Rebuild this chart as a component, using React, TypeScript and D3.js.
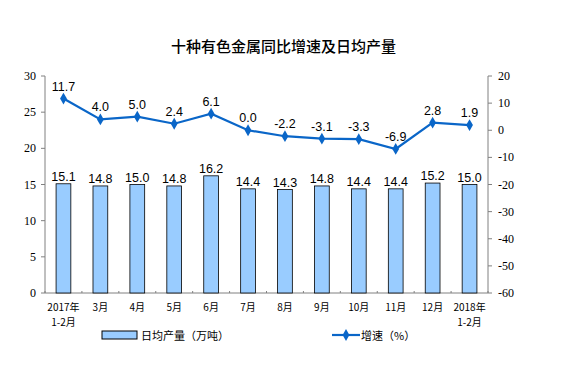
import React from 'react';
import * as d3 from 'd3';

const categories = ['2017年\n1-2月', '3月', '4月', '5月', '6月', '7月', '8月', '9月', '10月', '11月', '12月', '2018年\n1-2月'];
const dailyOutput = [15.1, 14.8, 15.0, 14.8, 16.2, 14.4, 14.3, 14.8, 14.4, 14.4, 15.2, 15.0];
const growthRate = [11.7, 4.0, 5.0, 2.4, 6.1, 0.0, -2.2, -3.1, -3.3, -6.9, 2.8, 1.9];
const leftTicks = [0, 5, 10, 15, 20, 25, 30];
const rightTicks = [-60, -50, -40, -30, -20, -10, 0, 10, 20];

const W = 567;
const H = 370;
const margin = { top: 76, right: 79, bottom: 77, left: 45 };

const App: React.FC = () => {
  const x = d3.scaleBand<string>()
    .domain(categories)
    .range([margin.left, W - margin.right])
    .paddingInner(0.6)
    .paddingOuter(0.3);
  const yL = d3.scaleLinear().domain([0, 30]).range([H - margin.bottom, margin.top]);
  const yR = d3.scaleLinear().domain([-60, 20]).range([H - margin.bottom, margin.top]);
  const cx = (c: string) => (x(c) || 0) + x.bandwidth() / 2;
  const step = (W - margin.left - margin.right) / categories.length;

  const line = d3.line<number>()
    .x((_, i) => cx(categories[i]))
    .y(d => yR(d));

  const axisColor = '#808080';
  const lineColor = '#0A66C8';
  const x0 = margin.left;
  const x1 = W - margin.right;
  const yBottom = H - margin.bottom;
  const diamond = d3.symbol().type(d3.symbolDiamond).size(40)() || '';

  return (
    <svg width={W} height={H} style={{ position: 'absolute', left: 0, top: 0, background: '#fff' }}>
      <text x={W / 2} y={52} textAnchor="middle" fontSize={15} fontWeight={500} fontFamily="Noto Sans CJK SC" fill="#000">
        十种有色金属同比增速及日均产量
      </text>

      {/* axes */}
      <line x1={x0} x2={x0} y1={margin.top} y2={yBottom} stroke={axisColor} />
      <line x1={x1} x2={x1} y1={margin.top} y2={yBottom} stroke={axisColor} />
      <line x1={x0} x2={x1} y1={yBottom} y2={yBottom} stroke={axisColor} />
      {leftTicks.map(t => (
        <g key={'l' + t}>
          <line x1={x0 - 4} x2={x0} y1={yL(t)} y2={yL(t)} stroke={axisColor} />
          <text x={x0 - 9} y={yL(t) + 4} textAnchor="end" fontSize={12} fontFamily="Liberation Serif">{t}</text>
        </g>
      ))}
      {rightTicks.map(t => (
        <g key={'r' + t}>
          <line x1={x1} x2={x1 + 4} y1={yR(t)} y2={yR(t)} stroke={axisColor} />
          <text x={x1 + 10} y={yR(t) + 4} textAnchor="start" fontSize={12} fontFamily="Liberation Serif">{t}</text>
        </g>
      ))}
      {d3.range(categories.length + 1).map(i => (
        <line key={'xt' + i} x1={x0 + i * step} x2={x0 + i * step} y1={yBottom - 2} y2={yBottom} stroke={axisColor} />
      ))}
      {categories.map(c => (
        <text key={'xl' + c} x={cx(c)} y={yBottom + 18} textAnchor="middle" fontSize={10} fontFamily="Noto Sans CJK SC">
          {c.split('\n').map((s, j) => (
            <tspan key={j} x={cx(c)} dy={j === 0 ? 0 : 15}>{s}</tspan>
          ))}
        </text>
      ))}

      {/* bars */}
      {dailyOutput.map((v, i) => (
        <g key={'b' + i}>
          <rect x={x(categories[i])} y={yL(v)} width={x.bandwidth()} height={yBottom - yL(v)}
            fill="#99CCFF" stroke="#000" strokeWidth={0.8} />
          <text x={cx(categories[i])} y={yL(v) - 3} textAnchor="middle" fontSize={12.5} fontFamily="Liberation Sans">
            {v.toFixed(1)}
          </text>
        </g>
      ))}

      {/* line */}
      <path d={line(growthRate) || ''} fill="none" stroke={lineColor} strokeWidth={2.2} />
      {growthRate.map((v, i) => (
        <g key={'p' + i}>
          <path d={diamond} transform={`translate(${cx(categories[i])},${yR(v)})`} fill={lineColor} />
          <text x={cx(categories[i])} y={yR(v) - 8} textAnchor="middle" fontSize={12.5} fontFamily="Liberation Sans">
            {v.toFixed(1)}
          </text>
        </g>
      ))}

      {/* legend */}
      <rect x={102} y={331} width={35} height={8} fill="#99CCFF" stroke="#000" strokeWidth={1} />
      <text x={141} y={339.5} fontSize={11} fontFamily="Noto Sans CJK SC">日均产量（万吨）</text>
      <line x1={332} x2={360} y1={335} y2={335} stroke={lineColor} strokeWidth={2.2} />
      <path d={diamond} transform="translate(346,335)" fill={lineColor} />
      <text x={361} y={339.5} fontSize={11} fontFamily="Noto Sans CJK SC">增速（%）</text>
    </svg>
  );
};

export default App;
